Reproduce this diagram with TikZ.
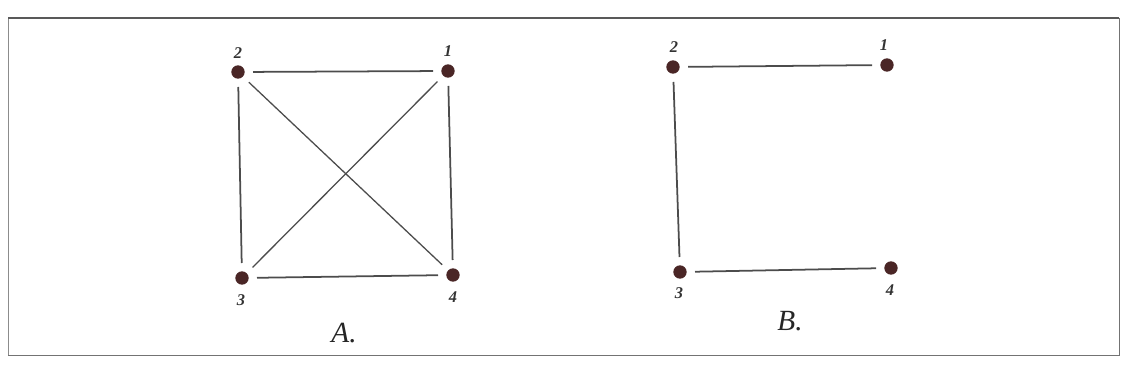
\documentclass[tikz,border=0pt]{standalone}
\usepackage{fontspec}
\setmainfont{Liberation Serif}
\begin{document}
\begin{tikzpicture}[
        x=0.03cm, y=-0.03cm,
        % styles
        vertex/.style={circle,fill=black!80!red!70!gray,inner sep=0pt,minimum size=0.4cm,outer sep=0.25cm},
        edge/.style={line width=1.5pt,black!70},
        num/.style={font=\fontsize{14}{14}\selectfont\bfseries\itshape,black!80},
        caption/.style={font=\fontsize{25}{25}\selectfont\itshape,black!85},
    ]
    \useasboundingbox (0,0) rectangle (1127,377);

    % frame
    \draw[black!45,line width=0.8pt] (8,355) -- (8,18);
    \draw[black!65,line width=1pt] (8,18) -- (1119,18);
    \draw[black!55,line width=0.8pt] (1119,18) -- (1119,355) -- (8,355);

    % graph A
    \node[vertex] (a1) at (448,71) {};
    \node[vertex] (a2) at (238,72) {};
    \node[vertex] (a3) at (242,278) {};
    \node[vertex] (a4) at (453,275) {};
    \node[num] at (238,53) {2};
    \node[num] at (448,51) {1};
    \node[num] at (241,300) {3};
    \node[num] at (453,297) {4};

    \draw[edge] (a2) -- (a1);
    \draw[edge] (a1) -- (a4);
    \draw[edge] (a4) -- (a3);
    \draw[edge] (a3) -- (a2);
    \draw[edge,line width=1.1pt] (a2) -- (a4);
    \draw[edge,line width=1.1pt] (a3) -- (a1);

    \node[caption] (capA) at (344,333) {A.};

    % graph B
    \node[vertex] (b1) at (887,65) {};
    \node[vertex] (b2) at (673,67) {};
    \node[vertex] (b3) at (680,272) {};
    \node[vertex] (b4) at (891,268) {};
    \node[num] at (674,47) {2};
    \node[num] at (884,45) {1};
    \node[num] at (679,293) {3};
    \node[num] at (890,290) {4};

    \draw[edge] (b2) -- (b1);
    \draw[edge] (b2) -- (b3);
    \draw[edge] (b3) -- (b4);

    \node[caption] (capB) at (790,321) {B.};
\end{tikzpicture}
\end{document}
